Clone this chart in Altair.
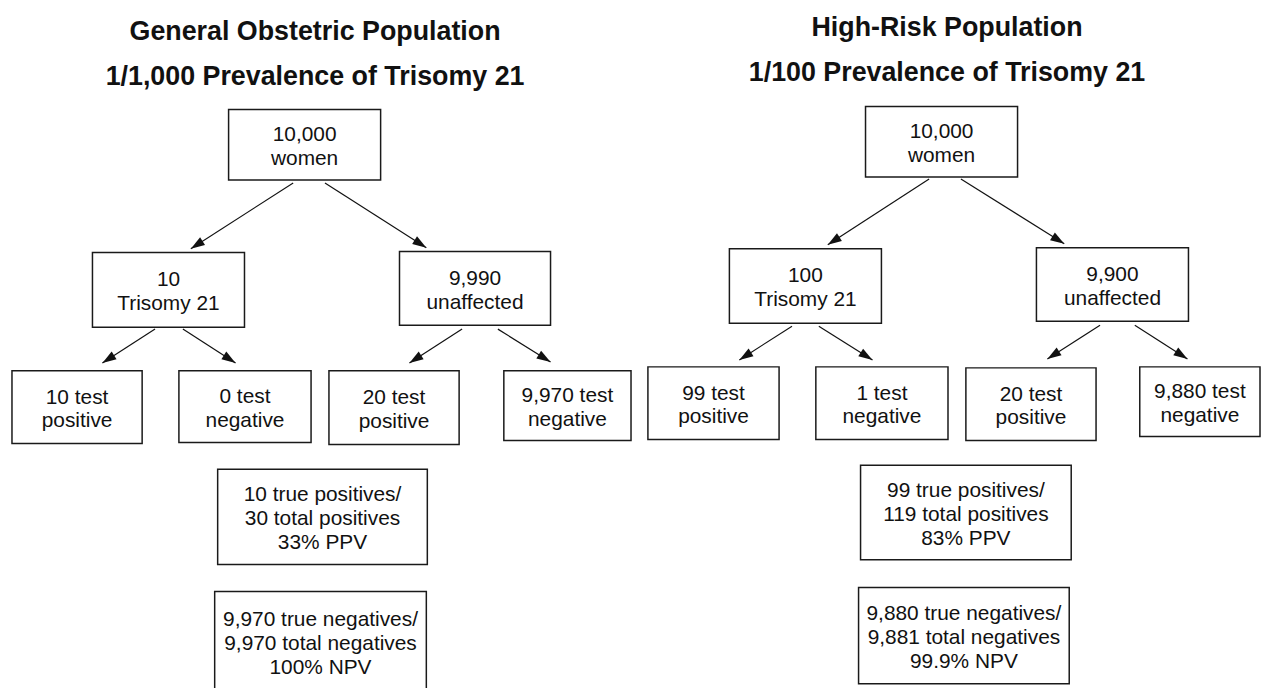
import math
import altair as alt
import pandas as pd

# ---- node layout (image-pixel frame) ----
box_text = [
    "10,000\nwomen", "10\nTrisomy 21", "9,990\nunaffected",
    "10 test\npositive", "0 test\nnegative", "20 test\npositive", "9,970 test\nnegative",
    "10 true positives/\n30 total positives\n33% PPV",
    "9,970 true negatives/\n9,970 total negatives\n100% NPV",
    "10,000\nwomen", "100\nTrisomy 21", "9,900\nunaffected",
    "99 test\npositive", "1 test\nnegative", "20 test\npositive", "9,880 test\nnegative",
    "99 true positives/\n119 total positives\n83% PPV",
    "9,880 true negatives/\n9,881 total negatives\n99.9% NPV",
]
box_x1 = [230, 93, 402, 12, 180, 331, 507, 219, 216, 871, 734, 1043, 652, 821, 972, 1147, 866, 864]
box_x2 = [383, 246, 554, 143, 313, 462, 635, 430, 429, 1024, 887, 1196, 784, 954, 1103, 1268, 1078, 1076]
box_y1 = [108, 252, 251, 371, 371, 371, 371, 470, 593, 105, 248, 247, 367, 367, 368, 367, 466, 589]
box_y2 = [179, 327, 325, 444, 443, 445, 441, 566, 694, 176, 323, 321, 440, 440, 441, 437, 561, 686]

arrow_x1 = [295, 327, 156, 184, 465, 501, 935, 967, 797, 824, 1107, 1142]
arrow_y1 = [182, 182, 329, 329, 329, 329, 178, 178, 326, 326, 325, 325]
arrow_x2 = [192, 429, 103, 237, 412, 554, 833, 1071, 744, 878, 1054, 1195]
arrow_y2 = [248, 247, 363, 363, 363, 362, 244, 243, 360, 360, 359, 359]

title_text = ["General Obstetric Population", "1/1,000 Prevalence of Trisomy 21",
              "High-Risk Population", "1/100 Prevalence of Trisomy 21"]
title_x = [317, 317, 953, 953]
title_y = [38, 83, 34, 79]

FS = 21      # box text font size
LH = 24      # box text line height

# ---- tables ----
boxes = pd.DataFrame({"x1": box_x1, "x2": box_x2, "y1": box_y1, "y2": box_y2, "label": box_text})
boxes["cx"] = (boxes["x1"] + boxes["x2"]) / 2
nlines = boxes["label"].str.count("\n") + 1
boxes["by"] = (boxes["y1"] + boxes["y2"]) / 2 - (nlines - 1) * LH / 2 + 0.4 * FS

arrows = pd.DataFrame({"x1": arrow_x1, "y1": arrow_y1, "x2": arrow_x2, "y2": arrow_y2})
arrows["ang"] = [
    math.degrees(math.atan2(x2 - x1, -(y2 - y1))) % 360
    for x1, y1, x2, y2 in zip(arrow_x1, arrow_y1, arrow_x2, arrow_y2)
]

titles = pd.DataFrame({"x": title_x, "y": title_y, "t": title_text})

W, H = 1261, 680
xs = alt.Scale(domain=[8, 8 + W], nice=False, zero=False)
ys = alt.Scale(domain=[8, 8 + H], nice=False, zero=False, reverse=True)

rects = alt.Chart(boxes).mark_rect(fill="white", stroke="#1a1a1a", strokeWidth=1.5).encode(
    x=alt.X("x1:Q", scale=xs, axis=None),
    x2="x2:Q",
    y=alt.Y("y1:Q", scale=ys, axis=None),
    y2="y2:Q",
)

labels = alt.Chart(boxes).mark_text(
    font="Liberation Sans, Arial, sans-serif",
    fontSize=FS, lineHeight=LH, lineBreak="\n", align="center", baseline="alphabetic", color="#111",
).encode(
    x=alt.X("cx:Q", scale=xs, axis=None),
    y=alt.Y("by:Q", scale=ys, axis=None),
    text="label:N",
)

lines = alt.Chart(arrows).mark_rule(color="#111", strokeWidth=1.2).encode(
    x=alt.X("x1:Q", scale=xs, axis=None),
    x2="x2:Q",
    y=alt.Y("y1:Q", scale=ys, axis=None),
    y2="y2:Q",
)

heads = alt.Chart(arrows).mark_point(
    shape="M0,0L0.65,2L-0.65,2Z", filled=True, color="#111", opacity=1, size=196, strokeWidth=0,
).encode(
    x=alt.X("x2:Q", scale=xs, axis=None),
    y=alt.Y("y2:Q", scale=ys, axis=None),
    angle=alt.Angle("ang:Q", scale=None),
)

heads_txt = alt.Chart(titles).mark_text(
    font="Liberation Sans, Arial, sans-serif", fontSize=27, fontWeight="bold",
    align="center", baseline="alphabetic", color="#111",
).encode(
    x=alt.X("x:Q", scale=xs, axis=None),
    y=alt.Y("y:Q", scale=ys, axis=None),
    text="t:N",
)

chart = alt.layer(rects, lines, heads, labels, heads_txt).properties(
    width=W, height=H, padding=0, autosize=alt.AutoSizeParams(type="none"),
    background="white",
).configure_view(stroke=None)

chart.save("out.html", embed_options={"renderer": "svg", "actions": False})
